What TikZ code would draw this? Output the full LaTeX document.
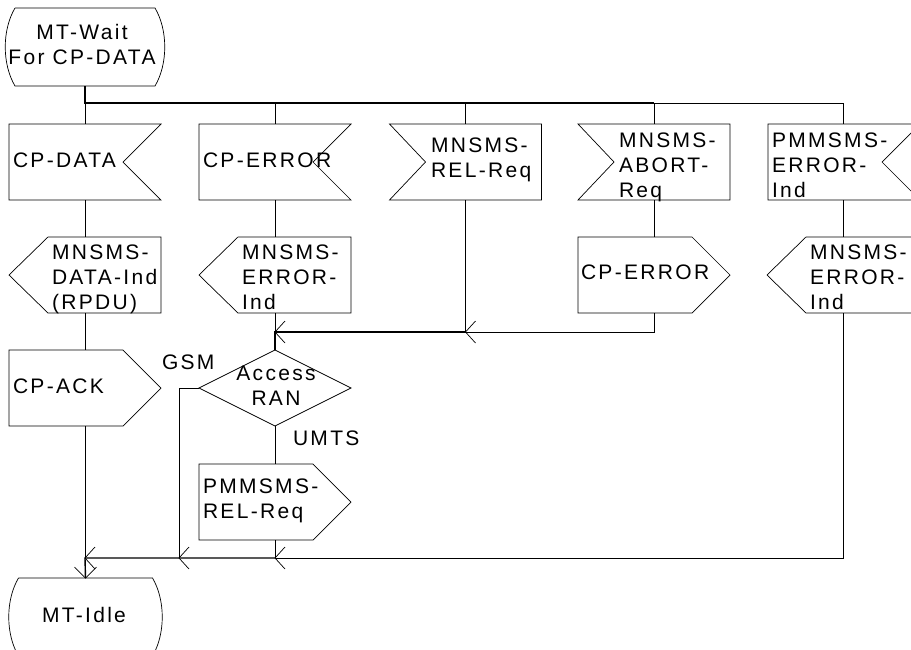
\documentclass[tikz,border=0pt]{standalone}
\usepackage{fontspec}
\newfontfamily\sdlfont[LetterSpace=11]{Liberation Sans}
\newcommand\mlft[1]{\begin{tabular}[t]{@{}l@{}}#1\end{tabular}}
\newcommand\mctr[1]{\begin{tabular}[t]{@{}c@{}}#1\end{tabular}}
\begin{document}
\begin{tikzpicture}[x=1pt,y=-1pt,
  sym/.style={rectangle,minimum width=152pt,minimum height=76pt,inner sep=0pt,outer sep=0pt},
  statebox/.style={rectangle,minimum width=140pt,minimum height=78pt,inner sep=0pt,outer sep=0pt},
  outline/.style={draw=black,line width=0.7pt,line join=miter},
  flow/.style={draw=black,line width=0.7pt},
  flowthick/.style={draw=black,line width=1.4pt},
  txt/.style={inner sep=0pt,outer sep=0pt,font=\sdlfont\fontsize{21pt}{25pt}\selectfont,anchor=base west},
  ctxt/.style={txt,anchor=base}]
\useasboundingbox (0,0) rectangle (911,649);
% macros for symbol outlines
\newcommand\inRight[1]{\draw[outline] (#1.north west) -- (#1.north east) -- ([xshift=-38pt]#1.east) -- (#1.south east) -- (#1.south west) -- cycle;}
\newcommand\inLeft[1]{\draw[outline] (#1.north west) -- (#1.north east) -- (#1.south east) -- (#1.south west) -- ([xshift=36pt]#1.west) -- cycle;}
\newcommand\outRight[1]{\draw[outline] (#1.north west) -- ([xshift=-38pt]#1.north east) -- (#1.east) -- ([xshift=-38pt]#1.south east) -- (#1.south west) -- cycle;}
\newcommand\outLeft[1]{\draw[outline] (#1.west) -- ([xshift=39pt]#1.north west) -- (#1.north east) -- (#1.south east) -- ([xshift=39pt]#1.south west) -- cycle;}
\newcommand\stateShape[1]{\draw[outline] (#1.north west) -- (#1.north east) .. controls ([shift={(13pt,-22pt)}]#1.north east) and ([shift={(13pt,22pt)}]#1.south east) .. (#1.south east) -- (#1.south west) .. controls ([shift={(-13pt,22pt)}]#1.south west) and ([shift={(-13pt,-22pt)}]#1.north west) .. (#1.north west);}
\newcommand\chevLeft[1]{\draw[flow] ([shift={(10pt,11pt)}]#1) -- (#1) -- ([shift={(10pt,-11pt)}]#1);}
\newcommand\chevDown[1]{\draw[flow] ([shift={(-11pt,11pt)}]#1) -- (#1) -- ([shift={(11pt,11pt)}]#1);}

% nodes
\node[statebox] (S) at (85,47) {};
\node[sym] (r1c1) at (85,162) {};
\node[sym] (r1c2) at (275,162) {};
\node[sym] (r1c3) at (465.5,162) {};
\node[sym] (r1c4) at (654,162) {};
\node[sym] (r1c5) at (844,162) {};
\node[sym] (r2c1) at (85,275) {};
\node[sym] (r2c2) at (275,275) {};
\node[sym] (r2c4) at (654,275) {};
\node[sym] (r2c5) at (843,275) {};
\node[sym] (r3c1) at (85,388) {};
\node[sym] (D) at (275,388) {};
\node[sym] (r4c2) at (275,502) {};
\node[rectangle,minimum width=134pt,minimum height=78pt,inner sep=0pt,outer sep=0pt] (E) at (85.5,617) {};

% outlines
\stateShape{S}
\inRight{r1c1}
\inRight{r1c2}
\inLeft{r1c3}
\inLeft{r1c4}
\inRight{r1c5}
\outLeft{r2c1}
\outLeft{r2c2}
\outRight{r2c4}
\outLeft{r2c5}
\outRight{r3c1}
\draw[outline] (D.north) -- (D.east) -- (D.south) -- (D.west) -- cycle;
\outRight{r4c2}
\stateShape{E}

% texts
\node[ctxt] (tS) at (82,39) {\mctr{MT-Wait\\For CP-DATA}};
\node[txt] (t11) at (13,167) {CP-DATA};
\node[txt] (t12) at (203,167) {CP-ERROR};
\node[txt] (t13) at (431,152) {\mlft{MNSMS-\\REL-Req}};
\node[txt] (t14) at (619,147) {\mlft{MNSMS-\\ABORT-\\Req}};
\node[txt] (t15) at (772,147) {\mlft{PMMSMS-\\ERROR-\\Ind}};
\node[txt] (t21) at (52,259) {\mlft{MNSMS-\\DATA-Ind\\(RPDU)}};
\node[txt] (t22) at (242,259) {\mlft{MNSMS-\\ERROR-\\Ind}};
\node[txt] (t24) at (581,279) {CP-ERROR};
\node[txt] (t25) at (810,259) {\mlft{MNSMS-\\ERROR-\\Ind}};
\node[txt] (t31) at (13,393) {CP-ACK};
\node[ctxt] (tD) at (276,380) {\mctr{Access\\RAN}};
\node[txt] (tG) at (162,369) {GSM};
\node[txt] (tU) at (293,445) {UMTS};
\node[txt] (t4) at (203,493) {\mlft{PMMSMS-\\REL-Req}};
\node[ctxt] (tE) at (84,622) {MT-Idle};

% junction coordinates
\coordinate (b0) at (85,103);
\coordinate (b4) at (654,103);
\coordinate (b5) at (843,103);
\coordinate (j1) at (275,332);
\coordinate (j2) at (465.5,332);
\coordinate (j3) at (654,332);
\coordinate (k0) at (85,558);
\coordinate (kG) at (179,558);
\coordinate (k2) at (275,558);
\coordinate (k5) at (843,558);

% top bus
\draw[flowthick] (S.south) -- (b0) -- (b4);
\draw[flow] (b4) -- (b5);
\draw[flow] (r1c1.north |- b0) -- (r1c1.north);
\draw[flow] (r1c2.north |- b0) -- (r1c2.north);
\draw[flow] (r1c3.north |- b0) -- (r1c3.north);
\draw[flow] (r1c4.north |- b0) -- (r1c4.north);
\draw[flow] (b5) -- (b5 |- r1c5.north);

% column connectors
\draw[flow] (r1c1.south) -- (r2c1.north);
\draw[flow] (r2c1.south) -- (r3c1.north);
\draw[flow] (r3c1.south) -- (k0);
\draw[flow] (r1c2.south) -- (r2c2.north);
\draw[flow] (r2c2.south) -- (j1);
\draw[flow] (r1c3.south) -- (j2);
\draw[flow] (r1c4.south) -- (r2c4.north);
\draw[flow] (r2c4.south) -- (j3) -- (j2);
\draw[flowthick] (j2) -- (j1) -- (D.north);
\draw[flow] (b5 |- r1c5.south) -- (b5 |- r2c5.north);
\draw[flow] (b5 |- r2c5.south) -- (k5) -- (k2);
\draw[flow] (D.west) -- (kG |- D.west) -- (kG);
\draw[flow] (D.south) -- (r4c2.north);
\draw[flow] (r4c2.south) -- (k2);
\draw[flowthick] (k2) -- (k0) -- (E.north);

% arrowheads
\chevLeft{j1}
\chevLeft{j2}
\chevLeft{k0}
\chevLeft{kG}
\chevLeft{k2}
\chevDown{E.north}
\end{tikzpicture}
\end{document}
